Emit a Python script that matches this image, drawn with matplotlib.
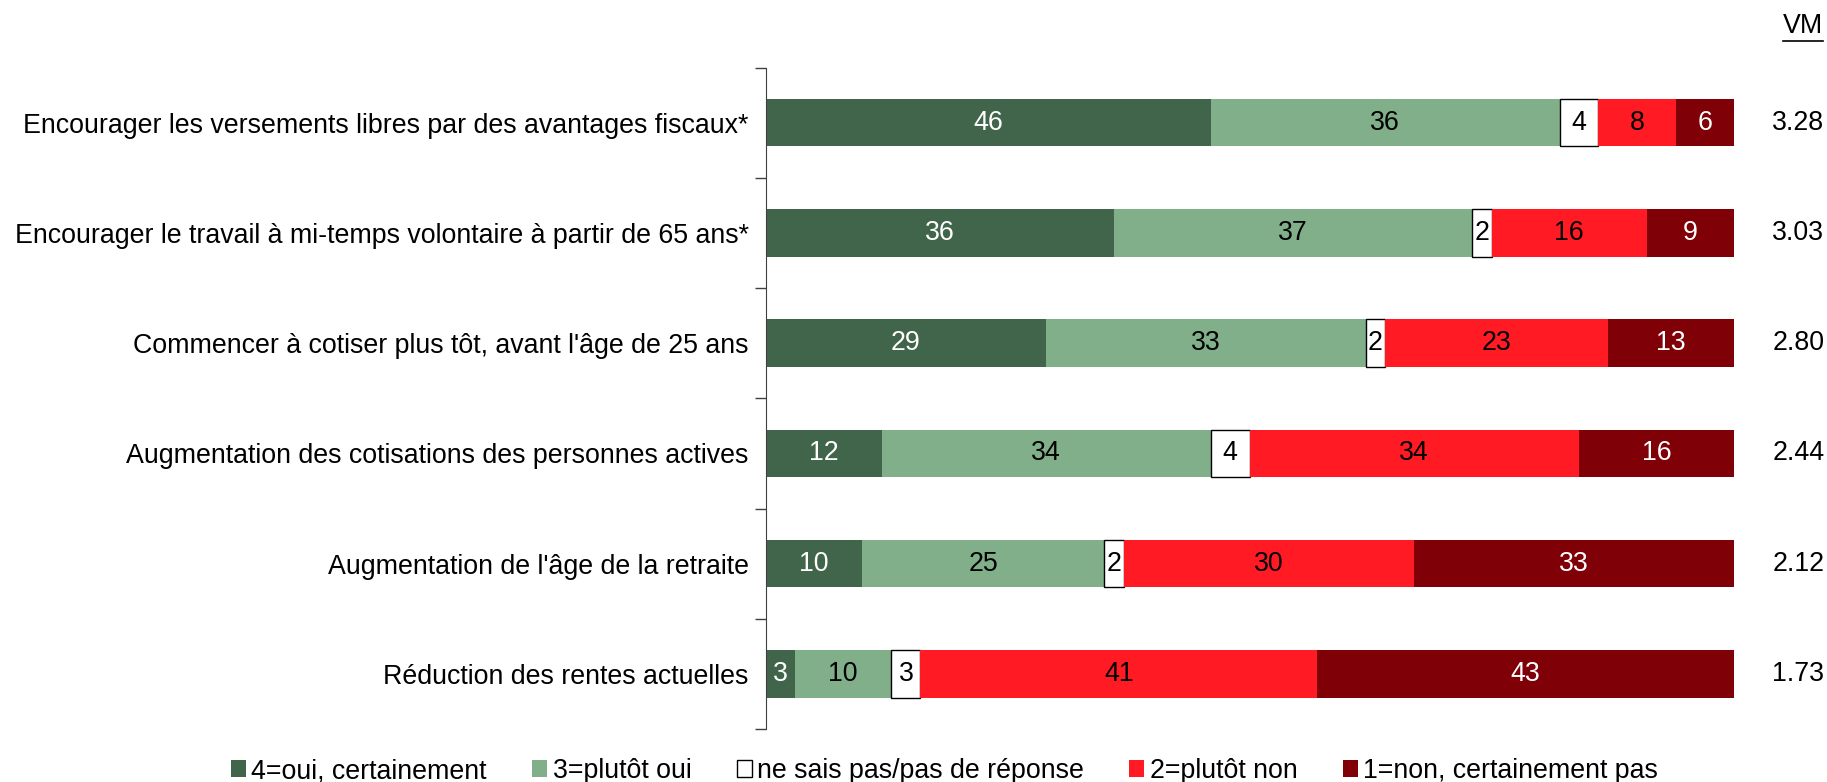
import matplotlib
matplotlib.use("Agg")
import matplotlib.pyplot as plt
import numpy as np

plt.rcParams['font.family'] = ['Liberation Sans', 'DejaVu Sans']

categories = [
    "Encourager les versements libres par des avantages fiscaux*",
    "Encourager le travail à mi-temps volontaire à partir de 65 ans*",
    "Commencer à cotiser plus tôt, avant l'âge de 25 ans",
    "Augmentation des cotisations des personnes actives",
    "Augmentation de l'âge de la retraite",
    "Réduction des rentes actuelles",
]
series_names = ["4=oui, certainement", "3=plutôt oui", "ne sais pas/pas de réponse",
                "2=plutôt non", "1=non, certainement pas"]
oui_certainement = [46, 36, 29, 12, 10, 3]
plutot_oui = [36, 37, 33, 34, 25, 10]
ne_sais_pas = [4, 2, 2, 4, 2, 3]
plutot_non = [8, 16, 23, 34, 30, 41]
non_certainement = [6, 9, 13, 16, 33, 43]
vm = ["3.28", "3.03", "2.80", "2.44", "2.12", "1.73"]

series = [oui_certainement, plutot_oui, ne_sais_pas, plutot_non, non_certainement]
colors = ["#41654A", "#80AF89", "#FFFFFF", "#FF1A24", "#7F0007"]
text_colors = ["white", "black", "black", "black", "white"]
edges = ["none", "none", "black", "none", "none"]

fig = plt.figure(figsize=(18.27, 7.82), dpi=100)
ax = fig.add_axes([0.419, 0.0678, 0.949 - 0.419, 0.9136 - 0.0678])

y = np.arange(len(categories))
left = np.zeros(len(categories))
fs = 19.3
handles = []
for vals, c, tc, ec, name in zip(series, colors, text_colors, edges, series_names):
    vals = np.array(vals, dtype=float)
    bars = ax.barh(y, vals, left=left, height=0.43, color=c, edgecolor=ec,
                   linewidth=1.0 if ec != "none" else 0, label=name)
    handles.append(bars)
    for yi, v, l in zip(y, vals, left):
        ax.text(l + v / 2, yi, f"{int(v)}", ha="center", va="center",
                color=tc, fontsize=fs)
    left += vals

ax.set_xlim(0, 100)
ax.set_ylim(len(categories) - 0.5, -0.5)
ax.set_yticks(y)
ax.set_yticklabels(categories, fontsize=fs)
ax.tick_params(axis="y", which="major", length=0, pad=12)
ax.set_yticks(np.arange(-0.5, len(categories)), minor=True)
ax.tick_params(axis="y", which="minor", length=8, width=1, color="#404040")
ax.set_xticks([])
for s in ["top", "right", "bottom"]:
    ax.spines[s].set_visible(False)
ax.spines["left"].set_color("#404040")

for yi, v in zip(y, vm):
    ax.text(1.0935, yi, v, transform=ax.get_yaxis_transform(), ha="right",
            va="center", fontsize=fs)
ax.text(0.998, 0.967, "VM", transform=fig.transFigure, ha="right", va="center",
        fontsize=fs)
fig.add_artist(plt.Line2D([0.976, 0.998], [0.948, 0.948], color="black", linewidth=1.2))

leg = fig.legend(handles=handles, loc="center", bbox_to_anchor=(0.517, 0.014),
                 ncol=5, frameon=False, fontsize=fs, handlelength=0.55,
                 handleheight=0.6, handletextpad=0.2, columnspacing=1.7)

fig.savefig("out.png", dpi=100)
